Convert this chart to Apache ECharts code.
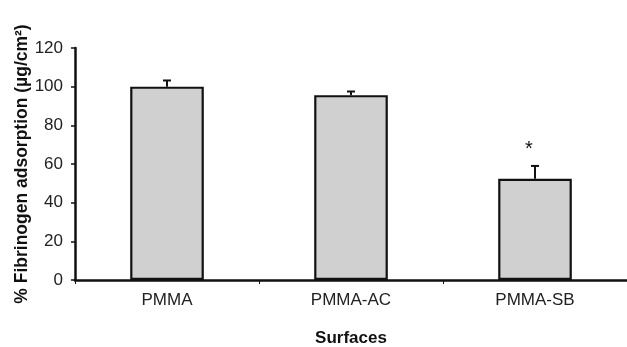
<!DOCTYPE html>
<html>
<head>
<meta charset="utf-8">
<script src="https://cdn.jsdelivr.net/npm/echarts@6/dist/echarts.min.js"></script>
<style>
  html, body { margin: 0; padding: 0; background: #fff; }
  #chart { width: 627px; height: 347px; }
</style>
</head>
<body>
<div id="chart"></div>
<script>
var categories = ['PMMA', 'PMMA-AC', 'PMMA-SB'];
var values = [100, 95.6, 52.4];
var errors = [3.2, 1.9, 6.6];
var marks = ['', '', '*'];
var yTicks = [0, 20, 40, 60, 80, 100, 120];

var myChart = echarts.init(document.getElementById('chart'));

var errData = values.map(function (v, i) { return [i, v, errors[i], marks[i]]; });

var option = {
  backgroundColor: '#ffffff',
  animation: false,
  grid: { left: 75, right: 0, top: 48, bottom: 67, containLabel: false, outerBoundsMode: 'none' },
  xAxis: {
    type: 'category',
    data: categories,
    name: 'Surfaces',
    nameLocation: 'middle',
    nameGap: 50,
    nameMoveOverlap: false,
    nameTextStyle: { fontFamily: 'Liberation Sans', fontSize: 17, fontWeight: 'bold', color: '#111' },
    axisLine: { lineStyle: { color: '#111', width: 2.5 } },
    axisTick: { show: true, length: 4, lineStyle: { color: '#111', width: 1 } },
    axisLabel: { fontFamily: 'Liberation Sans', fontSize: 17, color: '#222', margin: 12 }
  },
  yAxis: {
    type: 'value',
    min: yTicks[0],
    max: yTicks[yTicks.length - 1],
    interval: 20,
    name: '% Fibrinogen adsorption (µg/cm²)',
    nameLocation: 'middle',
    nameGap: 44,
    nameRotate: 90,
    nameMoveOverlap: false,
    nameTextStyle: { fontFamily: 'Liberation Sans', fontSize: 17.5, fontWeight: 'bold', color: '#111' },
    axisLine: { show: true, lineStyle: { color: '#111', width: 2.5 } },
    axisTick: { show: true, length: 4, lineStyle: { color: '#111', width: 1.5 } },
    axisLabel: { fontFamily: 'Liberation Sans', fontSize: 17, color: '#222', margin: 12 },
    splitLine: { show: false }
  },
  series: [
    {
      type: 'bar',
      data: values,
      barWidth: '40%',
      itemStyle: { color: '#d0d0d0', borderColor: '#111', borderWidth: 2.2 },
      z: 2
    },
    {
      type: 'custom',
      data: errData,
      z: 3,
      renderItem: function (params, api) {
        var i = api.value(0);
        var base = api.coord([i, api.value(1)]);
        var top = api.coord([i, api.value(1) + api.value(2)]);
        var children = [
          { type: 'line', shape: { x1: base[0], y1: base[1], x2: top[0], y2: top[1] },
            style: { stroke: '#111', lineWidth: 2 } },
          { type: 'line', shape: { x1: top[0] - 4, y1: top[1], x2: top[0] + 4, y2: top[1] },
            style: { stroke: '#111', lineWidth: 2 } }
        ];
        var m = errData[params.dataIndex][3];
        if (m) {
          children.push({
            type: 'text',
            style: { text: m, x: top[0] - 6, y: top[1] - 16, align: 'center', verticalAlign: 'middle',
              fontFamily: 'Liberation Sans', fontSize: 20, fill: '#111' }
          });
        }
        return { type: 'group', children: children };
      }
    }
  ]
};
myChart.setOption(option, true);
</script>
</body>
</html>
